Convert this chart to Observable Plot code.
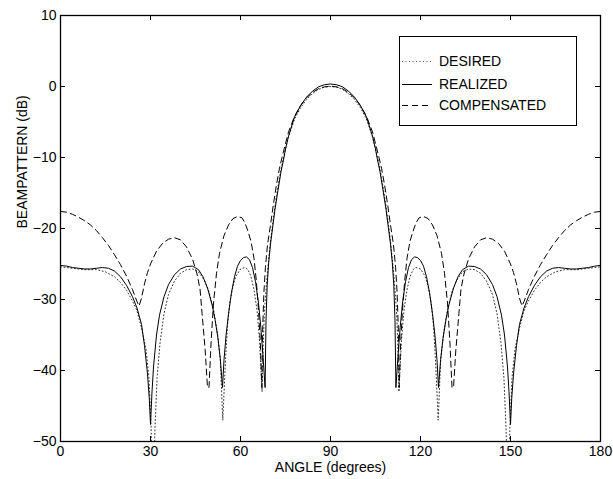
<!DOCTYPE html>
<html>
<head>
<meta charset="utf-8">
<script src="https://cdn.jsdelivr.net/npm/d3@7"></script>
<script src="https://cdn.jsdelivr.net/npm/@observablehq/plot@0.6"></script>
<style>
  html, body { margin: 0; padding: 0; background: #fff; }
  #wrap { position: relative; width: 613px; height: 479px; font-family: "Liberation Sans", Arial, Helvetica, sans-serif; }
  #legend { position: absolute; left: 399px; top: 36px; width: 176px; height: 88px; border: 1.5px solid #000; background: #fff; }
  .row { position: absolute; left: 0; height: 18px; display: flex; align-items: center; font-size: 14px; color: #000; }
  .row svg { margin-left: 2px; margin-right: 7px; }
</style>
</head>
<body>
<div id="wrap">
  <div id="chart"></div>
  <div id="legend"></div>
</div>
<script>
// Tick values
const xTicks = [0, 30, 60, 90, 120, 150, 180];
const yTicks = [10, 0, -10, -20, -30, -40, -50];
const seriesNames = ["DESIRED", "REALIZED", "COMPENSATED"];

// DESIRED (dotted)
const desiredAngle = [0,4,8,12,15,18,20,22,24,25.5,27,28.5,29.5,30.2,30.8,31.5,32.2,33.2,34.5,36,38,40,42,44,46,48,49.5,51,52.3,53.3,54.1,55,55.7,56.5,57.5,58.5,60,61.5,62.5,63.5,64.5,65.5,66.3,67.2,67.6,68,69,70,71,72,73,74,75,76,78,80,82,84,86,88,90,
  92,94,96,98,100,102,104,105,106,107,108,109,110,111,112,112.4,112.8,113.7,114.5,115.5,116.5,117.5,118.5,120,121.5,122.5,123.5,124.3,125,125.9,126.7,127.7,129,130.5,132,134,136,138,140,142,144,145.5,146.8,147.8,148.5,149.2,149.8,150.5,151.5,153,154.5,156,158,160,162,165,168,172,176,180];
const desiredDb = [-25.4,-25.6,-25.8,-25.8,-26.1,-26.8,-27.6,-28.7,-30.2,-31.6,-34,-37,-41,-48,-60,-48,-41,-36,-32,-29.3,-27.4,-26.3,-25.8,-25.7,-26.1,-27.3,-28.9,-31.4,-34.7,-38.7,-47,-38.5,-33.5,-30.3,-28.1,-26.7,-25.7,-25.5,-25.8,-26.8,-28.6,-31.5,-35.5,-43,-36,-31.5,-26,-21.8,-18.4,-15.4,-12.8,-10.6,-8.8,-7.1,-4.6,-3.0,-1.85,-1.0,-0.4,-0.1,0,
  -0.1,-0.4,-1.0,-1.85,-3.0,-4.6,-7.1,-8.8,-10.6,-12.8,-15.4,-18.4,-21.8,-26,-31.5,-36,-43,-35.5,-31.5,-28.6,-26.8,-25.8,-25.5,-25.7,-26.7,-28.1,-30.3,-33.5,-38.5,-47,-38.7,-34.7,-31.4,-28.9,-27.3,-26.1,-25.7,-25.8,-26.3,-27.4,-29.3,-32,-36,-41,-48,-60,-48,-41,-37,-34,-31.6,-30.2,-28.7,-27.6,-26.8,-26.1,-25.8,-25.8,-25.6,-25.4];

// REALIZED (solid)
const realizedAngle = [0,2,4,6,8,10,12,14,16,18,20,22,24,25.5,27,28,29,29.6,30,30.5,31,32,33,34.5,36,38,40,42,44,46,47.5,49,50.5,51.5,52.5,53.3,54,54.5,55.2,56,57,58,59,60,61,62,63,64,65,66,66.8,67.5,68.2,68.5,68.9,69.4,70,70.7,71.5,72.5,73.5,74.5,75,76,78,80,82,84,86,88,90,
  92,94,96,98,100,102,104,105,105.5,106.5,107.5,108.5,109.3,110,110.6,111.1,111.5,111.8,112.5,113.2,114,115,116,117,118,119,120,121,122,123,124,124.8,125.5,126,126.7,127.5,128.5,129.5,131,132.5,134,136,138,140,142,144,145.5,147,148,149,149.5,150,150.4,151,152,153,154.5,156,158,160,162,164,166,168,170,172,174,176,178,180];
const realizedDb = [-25.2,-25.3,-25.5,-25.6,-25.7,-25.7,-25.6,-25.5,-25.6,-26.0,-26.8,-28.0,-29.6,-31.2,-33.5,-36.5,-40.5,-44,-47.6,-43,-39.5,-35,-32.2,-29.6,-27.9,-26.5,-25.7,-25.35,-25.3,-25.8,-26.8,-28.4,-30.7,-32.8,-35.5,-38.5,-42.4,-38.5,-35,-32,-29,-26.8,-25.3,-24.5,-24.1,-24.0,-24.4,-25.5,-27.5,-30.5,-34,-38,-42.4,-33,-28,-24.8,-22.2,-19.9,-17.3,-14.6,-12.0,-10.0,-8.8,-7.0,-4.3,-2.7,-1.5,-0.65,-0.05,0.25,0.35,
  0.25,-0.05,-0.65,-1.5,-2.7,-4.3,-7.0,-8.8,-10.0,-12.0,-14.6,-17.3,-19.9,-22.2,-24.8,-28,-33,-42.4,-38,-34,-30.5,-27.5,-25.5,-24.4,-24.0,-24.1,-24.5,-25.3,-26.8,-29,-32,-35,-38.5,-42.4,-38.5,-35.5,-32.8,-30.7,-28.4,-26.8,-25.8,-25.3,-25.35,-25.7,-26.5,-27.9,-29.6,-32.2,-35,-39.5,-43,-47.6,-44,-40.5,-36.5,-33.5,-31.2,-29.6,-28.0,-26.8,-26.0,-25.6,-25.5,-25.6,-25.7,-25.7,-25.6,-25.5,-25.3,-25.2];

// COMPENSATED (dashed)
const compensatedAngle = [0,2,4,6,8,10,12,14,16,18,20,22,24,25.5,26.2,27,28,29,30,32,34,36,38,40,42,44,45.5,46.5,47.2,48.2,49,49.5,50.2,51,52,53,54.5,56,57.5,59,60.5,61.5,62.5,63.5,64.5,65.3,66,66.6,67.1,67.4,67.8,68.3,69,70,71,72,73,74,76,78,80,82,84,86,88,90,
  92,94,96,98,100,102,104,106,107,108,109,110,111,111.7,112.2,112.6,112.9,113.4,114,114.7,115.5,116.5,117.5,118.5,119.5,121,122.5,124,125.5,127,128,129,129.8,130.5,131,131.8,132.8,133.5,134.5,136,138,140,142,144,146,148,150,151,152,153,153.8,154.5,156,158,160,162,164,166,168,170,172,174,176,178,180];
const compensatedDb = [-17.6,-17.7,-18.0,-18.4,-18.9,-19.5,-20.3,-21.3,-22.4,-23.7,-25.1,-26.7,-28.6,-30.3,-30.9,-29.8,-27.8,-26.2,-25,-23.2,-22.1,-21.5,-21.3,-21.6,-22.6,-24.3,-26.4,-28.5,-32,-37,-42.4,-42.4,-36,-30.5,-26.3,-23.5,-21,-19.5,-18.6,-18.3,-18.5,-19.2,-20.4,-21.8,-24.2,-27.5,-31.5,-36,-42.4,-34,-29,-25.5,-22.3,-19.5,-16.5,-13.8,-11.5,-9.7,-6.4,-4.2,-2.7,-1.6,-0.85,-0.3,-0.05,0.05,
  -0.05,-0.3,-0.85,-1.6,-2.7,-4.2,-6.4,-9.7,-11.5,-13.8,-16.5,-19.5,-22.3,-25.5,-29,-34,-42.4,-36,-31.5,-27.5,-24.2,-21.8,-20.4,-19.2,-18.5,-18.3,-18.6,-19.5,-21,-23.5,-26.3,-30.5,-36,-42.4,-42.4,-37,-32,-28.5,-26.4,-24.3,-22.6,-21.6,-21.3,-21.5,-22.1,-23.2,-25,-26.2,-27.8,-29.8,-30.9,-30.3,-28.6,-26.7,-25.1,-23.7,-22.4,-21.3,-20.3,-19.5,-18.9,-18.4,-18.0,-17.7,-17.6];

const toRows = (a, v) => a.map((x, i) => ({a: x, v: v[i]}));
const desired = toRows(desiredAngle, desiredDb);
const realized = toRows(realizedAngle, realizedDb);
const compensated = toRows(compensatedAngle, compensatedDb);

const W = 613, H = 479, mL = 60, mR = 13, mT = 15, mB = 38;
const innerW = W - mL - mR, innerH = H - mT - mB, tickLen = 5;
const font = "'Liberation Sans', Arial, Helvetica, sans-serif";

const chart = Plot.plot({
  width: W, height: H,
  marginLeft: mL, marginRight: mR, marginTop: mT, marginBottom: mB,
  style: {fontFamily: font, fontSize: "14px", background: "#fff", color: "#000", overflow: "visible"},
  x: {domain: [0, 180]},
  y: {domain: [-50, 10]},
  marks: [
    Plot.line(desired, {x: "a", y: "v", stroke: "#333", strokeWidth: 1, strokeDasharray: "1,2.5", clip: true}),
    Plot.line(realized, {x: "a", y: "v", stroke: "#000", strokeWidth: 1, clip: true}),
    Plot.line(compensated, {x: "a", y: "v", stroke: "#000", strokeWidth: 1, strokeDasharray: "6,4", clip: true}),
    Plot.tickX(xTicks, {x: d => d, insetTop: innerH - tickLen, stroke: "#000"}),
    Plot.tickX(xTicks, {x: d => d, insetBottom: innerH - tickLen, stroke: "#000"}),
    Plot.tickY(yTicks, {y: d => d, insetRight: innerW - tickLen, stroke: "#000"}),
    Plot.tickY(yTicks, {y: d => d, insetLeft: innerW - tickLen, stroke: "#000"}),
    Plot.axisX(xTicks, {tickSize: 0, tickPadding: 5, label: null, fontSize: 14}),
    Plot.axisY(yTicks, {tickSize: 0, tickPadding: 4, label: null, fontSize: 14}),
    Plot.frame({stroke: "#000", strokeWidth: 1.3}),
    Plot.text(["ANGLE (degrees)"], {text: d => d, frameAnchor: "bottom", dy: 30.5, fontSize: 14}),
    Plot.text(["BEAMPATTERN (dB)"], {text: d => d, frameAnchor: "left", dx: -38, rotate: -90, fontSize: 14})
  ]
});
document.getElementById("chart").appendChild(chart);

// Legend
const styles = [
  {dash: "1,2.5", color: "#555"},
  {dash: null, color: "#000"},
  {dash: "6,4", color: "#000"}
];
const rowTops = [15, 38, 59];
const legend = document.getElementById("legend");
seriesNames.forEach((name, i) => {
  const row = document.createElement("div");
  row.className = "row";
  row.style.top = rowTops[i] + "px";
  const s = styles[i];
  row.innerHTML = `<svg width="30" height="18"><line x1="0" y1="9.5" x2="30" y2="9.5" stroke="${s.color}" stroke-width="1" ${s.dash ? `stroke-dasharray="${s.dash}"` : ""}/></svg><span>${name}</span>`;
  legend.appendChild(row);
});
</script>
</body>
</html>
